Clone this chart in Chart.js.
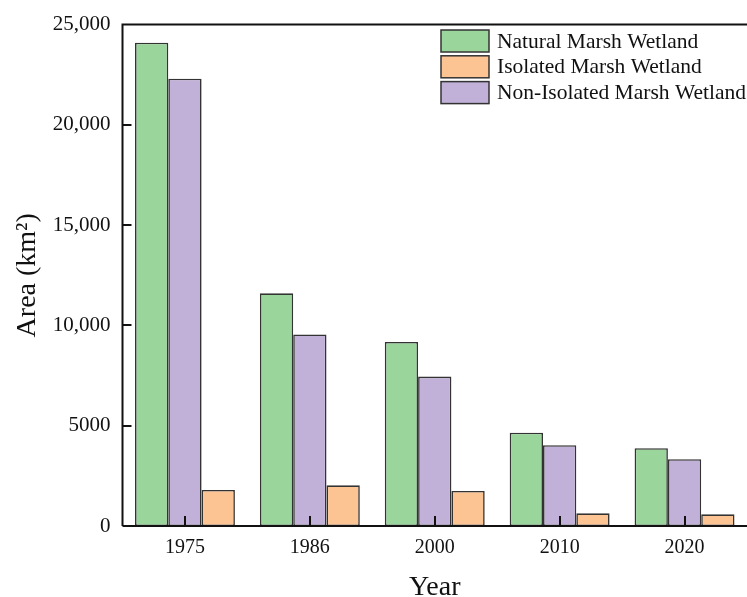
<!DOCTYPE html>
<html>
<head>
<meta charset="utf-8">
<title>Marsh wetland area</title>
<script src="https://cdn.jsdelivr.net/npm/chart.js@4.4.1/dist/chart.umd.min.js"></script>
<style>
    html, body { margin: 0; padding: 0; background: #fff; }
    #wrap { width: 747px; height: 597px; }
</style>
</head>
<body>
<div id="wrap"><canvas id="grafik" width="747" height="597"></canvas></div>
<script>
// Yıllar ve alan değerleri (km²)
const years = ['1975', '1986', '2000', '2010', '2020'];
const naturalArea = [24100, 11600, 9180, 4650, 3880];
const nonIsolatedArea = [22300, 9550, 7450, 4030, 3330];
const isolatedArea = [1800, 2030, 1750, 630, 580];
const yTicks = [0, 5000, 10000, 15000, 20000, 25000];

const seriesNames = ['Natural Marsh Wetland', 'Non-Isolated Marsh Wetland', 'Isolated Marsh Wetland'];
const seriesColors = ['#9ad69c', '#c1b1d8', '#fdc493'];
// lejant sırası: doğal, izole, izole olmayan
const legendOrder = [0, 2, 1];

const serif = "'Liberation Serif', 'Times New Roman', serif";
const edge = '#333333';

function yLabel(v) {
    return v >= 10000 ? v.toLocaleString('en-US') : String(v);
}

// eksen çizgileri, içe dönük tikler, üst çerçeve ve lejant
const frame = {
    id: 'frame',
    afterDraw(chart) {
        const ctx = chart.ctx;
        const area = chart.chartArea;
        const x = chart.scales.x;
        const y = chart.scales.y;
        ctx.save();
        ctx.strokeStyle = '#111';
        ctx.lineWidth = 2;
        ctx.beginPath();
        ctx.moveTo(area.left, area.bottom);
        ctx.lineTo(area.left, area.top);
        ctx.lineTo(chart.width, area.top);
        ctx.moveTo(area.left, area.bottom);
        ctx.lineTo(chart.width, area.bottom);
        yTicks.forEach(v => {
            if (v === 0 || v === 25000) return;
            const py = Math.round(y.getPixelForValue(v));
            ctx.moveTo(area.left, py);
            ctx.lineTo(area.left + 9, py);
        });
        years.forEach((yr, i) => {
            const px = Math.round(x.getPixelForValue(i));
            ctx.moveTo(px, area.bottom);
            ctx.lineTo(px, area.bottom - 10);
        });
        ctx.stroke();

        // lejant
        ctx.font = '21.5px ' + serif;
        ctx.textBaseline = 'middle';
        ctx.textAlign = 'left';
        legendOrder.forEach((di, row) => {
            const top = 30 + row * 25.8;
            ctx.fillStyle = seriesColors[di];
            ctx.fillRect(441, top, 48, 22);
            ctx.strokeStyle = edge;
            ctx.lineWidth = 1.5;
            ctx.strokeRect(441, top, 48, 22);
            ctx.fillStyle = '#111';
            ctx.fillText(seriesNames[di], 497, top + 12);
        });
        ctx.restore();
    }
};

const ctx = document.getElementById('grafik').getContext('2d');
new Chart(ctx, {
    type: 'bar',
    data: {
        labels: years,
        datasets: [naturalArea, nonIsolatedArea, isolatedArea].map((d, i) => ({
            label: seriesNames[i],
            data: d,
            backgroundColor: seriesColors[i],
            borderColor: edge,
            borderWidth: 1.6,
            borderSkipped: false,
            categoryPercentage: 0.8,
            barPercentage: 1.0
        }))
    },
    options: {
        responsive: false,
        animation: false,
        layout: { padding: { top: 22, right: 0, left: 0, bottom: 0 } },
        plugins: {
            legend: { display: false },
            tooltip: { enabled: false }
        },
        scales: {
            x: {
                grid: { display: false, drawTicks: false },
                border: { display: false },
                ticks: {
                    color: '#111',
                    padding: 10,
                    font: { family: serif, size: 20 }
                },
                title: {
                    display: true,
                    text: 'Year',
                    color: '#111',
                    font: { family: serif, size: 28, lineHeight: 0.65 },
                    padding: { top: 0, bottom: 0 }
                },
                afterFit: s => { s.height = 71; }
            },
            y: {
                min: 0,
                max: 25000,
                afterBuildTicks: s => { s.ticks = yTicks.map(v => ({ value: v })); },
                grid: { display: false, drawTicks: false },
                border: { display: false },
                ticks: {
                    color: '#111',
                    padding: 12,
                    font: { family: serif, size: 21 },
                    callback: v => yLabel(v)
                },
                title: {
                    display: true,
                    text: 'Area (km²)',
                    color: '#111',
                    font: { family: serif, size: 28, lineHeight: 1.2 },
                    padding: { top: 11, bottom: 0 }
                },
                afterFit: s => { s.width = 122.5; }
            }
        }
    },
    plugins: [frame]
});
</script>
</body>
</html>
